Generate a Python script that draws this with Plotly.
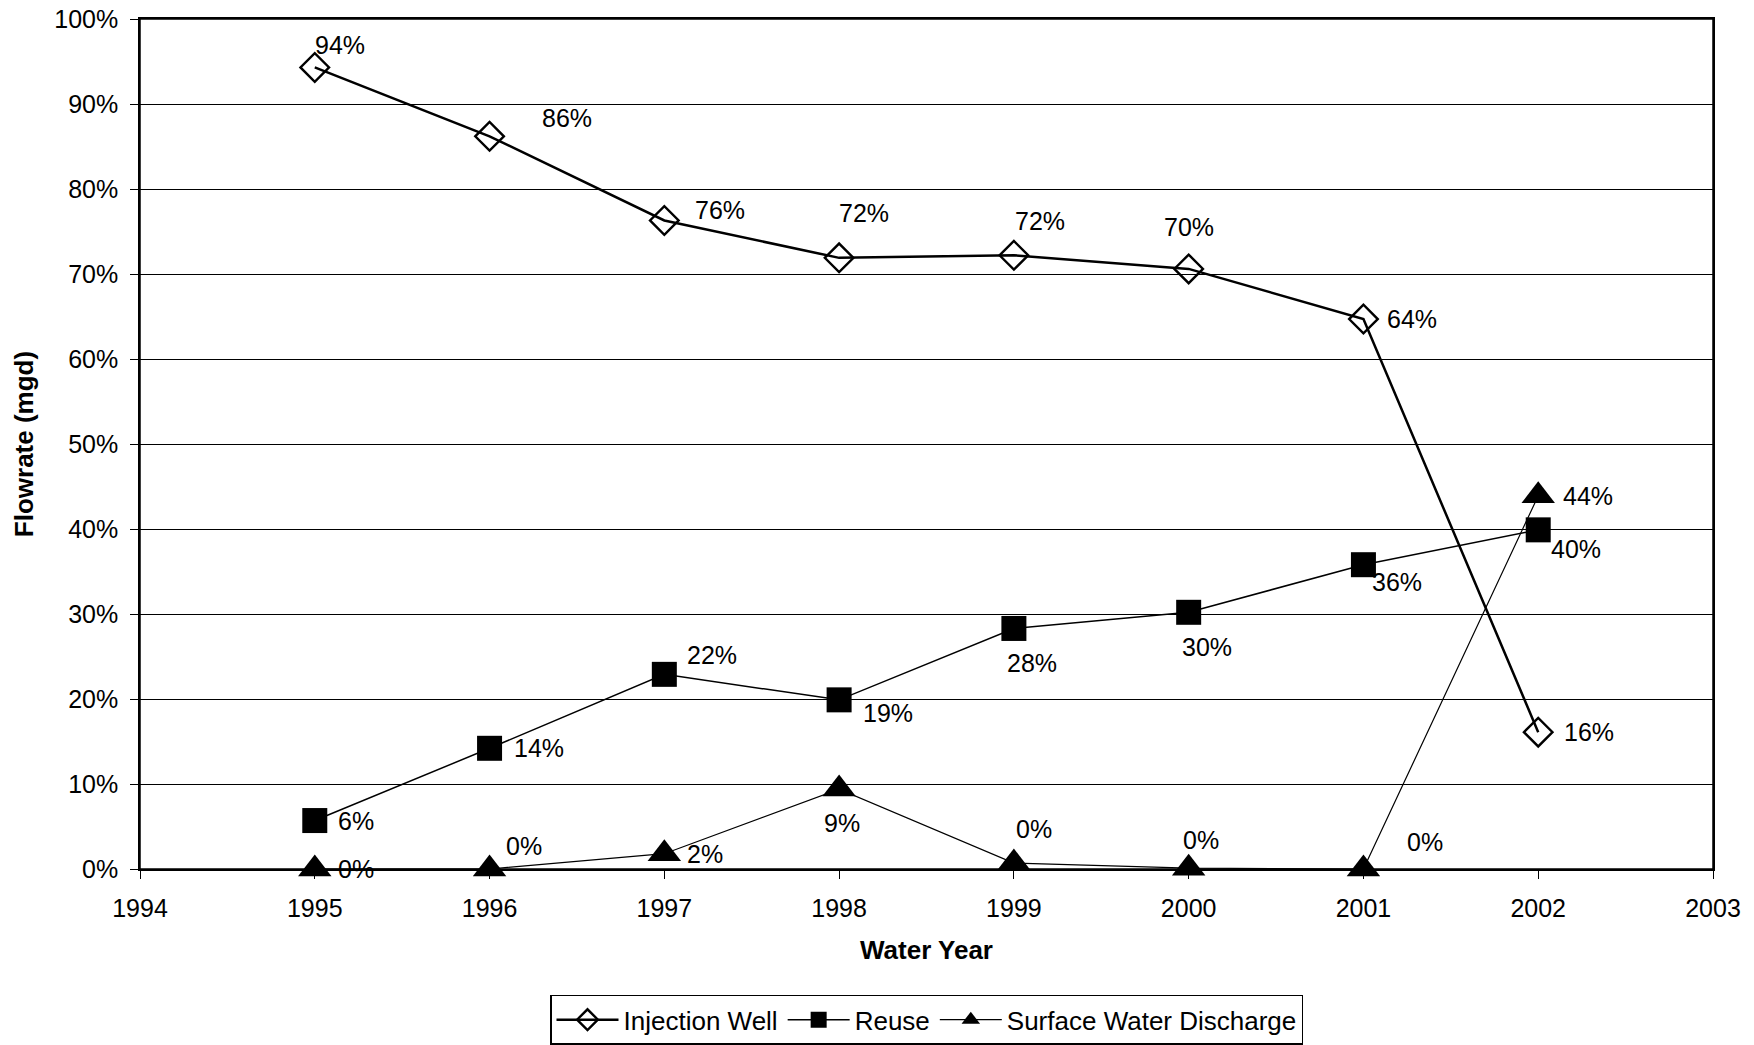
import plotly.graph_objects as go

years = [1995, 1996, 1997, 1998, 1999, 2000, 2001, 2002]
injection_well = [94.3, 86.2, 76.3, 71.9, 72.2, 70.6, 64.7, 16.1]
reuse = [5.7, 14.2, 22.9, 19.9, 28.3, 30.2, 35.8, 39.9]
surface = [0.0, 0.0, 1.8, 9.4, 0.7, 0.1, 0.0, 43.9]

injection_labels = ["94%", "86%", "76%", "72%", "72%", "70%", "64%", "16%"]
reuse_labels = ["6%", "14%", "22%", "19%", "28%", "30%", "36%", "40%"]
surface_labels = ["0%", "0%", "2%", "9%", "0%", "0%", "0%", "44%"]

# label pixel offsets (dx, dy-up)
inj_off = [(25, 22), (77, 18), (56, 10), (25, 45), (26, 34), (0, 42), (49, 0), (51, 0)]
reu_off = [(41, 0), (49, 0), (48, 19), (49, -13), (18, -35), (18, -35), (34, -17), (38, -19)]
sur_off = [(41, 0), (34, 23), (41, 0), (3, -34), (20, 34), (12, 28), (62, 27), (50, 0)]

FONT = "Liberation Sans, Arial, sans-serif"

fig = go.Figure()
fig.add_trace(go.Scatter(
    x=years, y=injection_well, name="Injection Well", mode="lines+markers",
    line=dict(color="black", width=2.5), cliponaxis=False,
    marker=dict(symbol="diamond-open", size=22, color="black", line=dict(width=2.4, color="black")),
))
fig.add_trace(go.Scatter(
    x=years, y=reuse, name="Reuse", mode="lines+markers",
    line=dict(color="black", width=1.5), cliponaxis=False,
    marker=dict(symbol="square", size=25, color="black"),
))
fig.add_trace(go.Scatter(
    x=years, y=surface, name="Surface Water Discharge", mode="lines+markers",
    line=dict(color="black", width=1.2), cliponaxis=False,
    marker=dict(symbol="triangle-up", size=29, color="black"),
))

annotations = []
for vals, labs, offs in [(injection_well, injection_labels, inj_off),
                         (reuse, reuse_labels, reu_off),
                         (surface, surface_labels, sur_off)]:
    for x, y, t, (dx, dy) in zip(years, vals, labs, offs):
        annotations.append(dict(x=x, y=y, text=t, showarrow=False,
                                xshift=dx, yshift=dy, xanchor="center", yanchor="middle",
                                font=dict(family=FONT, size=25, color="black")))

fig.update_layout(
    width=1754, height=1045,
    margin=dict(l=140, r=41, t=19, b=176, autoexpand=False),
    paper_bgcolor="white", plot_bgcolor="white",
    font=dict(family=FONT, size=25, color="black"),
    showlegend=True,
    legend=dict(orientation="h", x=0.5, xanchor="center", y=-0.148, yanchor="top",
                bordercolor="black", borderwidth=1.5, bgcolor="white",
                font=dict(family=FONT, size=26, color="black"),
                itemwidth=62, tracegroupgap=0),
    annotations=annotations,
    shapes=[dict(type="rect", xref="paper", yref="paper", x0=0, x1=1, y0=0, y1=1,
                 line=dict(color="black", width=1.5), fillcolor="rgba(0,0,0,0)", layer="above")],
    xaxis=dict(range=[1994, 2003], dtick=1, tick0=1994, showgrid=False,
               showline=True, linecolor="black", linewidth=1.5, mirror=True,
               ticks="outside", ticklen=8, tickcolor="black", ticklabelstandoff=8,
               ticklabeloverflow="allow",
               tickfont=dict(family=FONT, size=25), zeroline=False, automargin=False,
               title=dict(text="<b>Water Year</b>", font=dict(family=FONT, size=26), standoff=20)),
    yaxis=dict(range=[0, 100], dtick=10, ticksuffix="%", showgrid=True,
               gridcolor="black", gridwidth=1,
               showline=True, linecolor="black", linewidth=1.5, mirror=True,
               ticks="outside", ticklen=8, tickcolor="black", ticklabelstandoff=7,
               ticklabeloverflow="allow",
               tickfont=dict(family=FONT, size=25), zeroline=False, automargin=False,
               title=dict(text="<b>Flowrate (mgd)</b>", font=dict(family=FONT, size=26), standoff=13)),
)

fig.write_html("out.html", config={"displayModeBar": False},
               post_script="document.body.style.margin='0px';document.body.style.overflow='hidden';")
